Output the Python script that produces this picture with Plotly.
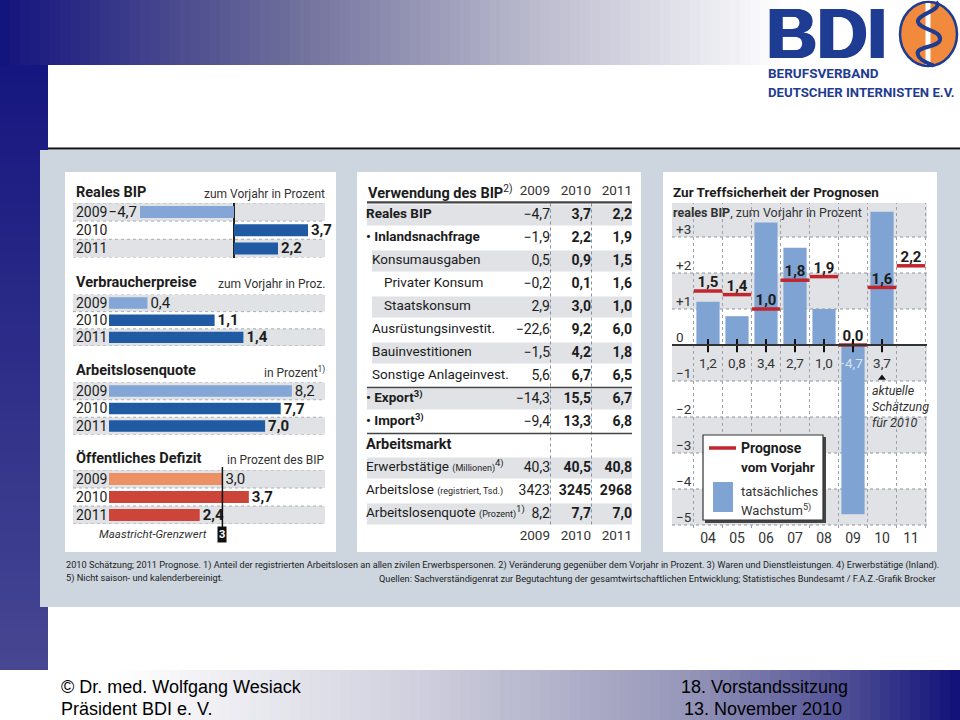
import plotly.graph_objects as go

W, H = 960, 720
def px(x): return x / W
def py(y): return 1 - y / H

TXT = "#1c1c1c"
FONT = "Roboto, Liberation Sans, sans-serif"
SLIDE_FONT = "Liberation Sans, Arial, sans-serif"

# ---------------- data ----------------
years = ["2009", "2010", "2011"]
reales_bip = [-4.7, 3.7, 2.2]
verbraucherpreise = [0.4, 1.1, 1.4]
arbeitslosenquote = [8.2, 7.7, 7.0]
oeff_defizit = [3.0, 3.7, 2.4]
maastricht_grenzwert = 3

table_labels = ["Reales BIP", "• Inlandsnachfrage", "Konsumausgaben", "Privater Konsum",
                "Staatskonsum", "Ausrüstungsinvestit.", "Bauinvestitionen",
                "Sonstige Anlageinvest.", "• Export<sup>3)</sup>", "• Import<sup>3)</sup>",
                "Arbeitsmarkt",
                "Erwerbstätige <span style='font-size:9px'>(Millionen)</span><sup>4)</sup>",
                "Arbeitslose <span style='font-size:9px'>(registriert, Tsd.)</span>",
                "Arbeitslosenquote <span style='font-size:9px'>(Prozent)</span><sup>1)</sup>"]
table_indent = [0, 0, 1, 2, 2, 1, 1, 1, 0, 0, 0, 0, 0, 0]
table_bold = [1, 1, 0, 0, 0, 0, 0, 0, 1, 1, 1, 0, 0, 0]
table_stripe = [1, 0, 1, 0, 1, 0, 1, 0, 1, 0, 0, 1, 0, 1]
table_2009 = [-4.7, -1.9, 0.5, -0.2, 2.9, -22.6, -1.5, 5.6, -14.3, -9.4, None, 40.3, 3423, 8.2]
table_2010 = [3.7, 2.2, 0.9, 0.1, 3.0, 9.2, 4.2, 6.7, 15.5, 13.3, None, 40.5, 3245, 7.7]
table_2011 = [2.2, 1.9, 1.5, 1.6, 1.0, 6.0, 1.8, 6.5, 6.7, 6.8, None, 40.8, 2968, 7.0]

prog_years = ["04", "05", "06", "07", "08", "09", "10", "11"]
actual_growth = [1.2, 0.8, 3.4, 2.7, 1.0, -4.7, 3.7]
forecast_prev = [1.5, 1.4, 1.0, 1.8, 1.9, 0.0, 1.6, 2.2]
prog_yticks = [3, 2, 1, 0, -1, -2, -3, -4, -5]


def de(v, dec=1):
    if v is None:
        return ""
    if abs(v) >= 1000:
        return f"{int(v)}"
    s = f"{abs(v):.{dec}f}".replace(".", ",")
    return ("−" + s) if v < 0 else s


def de_sign(v):
    if v > 0:
        return f"+{v}"
    if v < 0:
        return f"−{abs(v)}"
    return "0"


def ax(k):
    return "" if k == 1 else str(k)


fig = go.Figure()
shapes, ann = [], []


def rect(x0, y0, x1, y1, fill, lc=None, lw=0, layer="below"):
    shapes.append(dict(type="rect", xref="paper", yref="paper",
                       x0=px(x0), x1=px(x1), y0=py(y1), y1=py(y0),
                       fillcolor=fill, line=dict(width=lw, color=lc or fill), layer=layer))


def hline(x0, x1, y, color, width, dash="solid", layer="below"):
    shapes.append(dict(type="line", xref="paper", yref="paper", x0=px(x0), x1=px(x1),
                       y0=py(y), y1=py(y), line=dict(color=color, width=width, dash=dash), layer=layer))


def txt(x, y, s, size, anchor="left", color=TXT, font=FONT, yanchor="middle", shadow=None):
    f = dict(size=size, color=color, family=font)
    if shadow:
        f["shadow"] = shadow
    ann.append(dict(xref="paper", yref="paper", x=px(x), y=py(y), text=s, showarrow=False,
                    xanchor=anchor, yanchor=yanchor, font=f, borderpad=0))


def lerp(stops, t):
    for (t0, c0), (t1, c1) in zip(stops, stops[1:]):
        if t0 <= t <= t1:
            f = 0 if t1 == t0 else (t - t0) / (t1 - t0)
            c = [round(a + (b - a) * f) for a, b in zip(c0, c1)]
            return f"rgb({c[0]},{c[1]},{c[2]})"
    c = stops[-1][1]
    return f"rgb({c[0]},{c[1]},{c[2]})"


# ---------------- slide background ----------------
top_stops = [(0, (20, 20, 125)), (0.3, (110, 110, 155)), (0.55, (185, 185, 205)),
             (0.75, (236, 236, 242)), (0.82, (255, 255, 255)), (1, (255, 255, 255))]
n = 96
for i in range(n):
    x0 = i * W / n
    rect(x0, 0, x0 + W / n + 1, 65, lerp(top_stops, i / (n - 1)))
left_stops = [(0, (22, 22, 128)), (1, (70, 70, 146))]
m = 61
for i in range(m):
    y0 = 65 + i * 605 / m
    rect(0, y0, 48, y0 + 605 / m + 1, lerp(left_stops, i / (m - 1)))
bot_stops = [(0, (255, 255, 255)), (0.12, (255, 255, 255)), (0.45, (205, 205, 220)),
             (0.72, (150, 150, 185)), (0.88, (80, 80, 150)), (1, (18, 18, 122))]
for i in range(n):
    x0 = i * W / n
    rect(x0, 670, x0 + W / n + 1, 720, lerp(bot_stops, i / (n - 1)))

# graphic background
rect(40, 150, 960, 607, "#cdd5de")
hline(48, 960, 148.5, "#111111", 2)
rect(65, 172, 336, 552, "#ffffff")
rect(357, 172, 641, 552, "#ffffff")
rect(663, 172, 937, 552, "#ffffff")

# ---------------- logo ----------------
NAVY = "#1f3c93"
txt(764, 34, "<b>BDI</b>", 70, color=NAVY, font="Liberation Sans, Arial, sans-serif",
    shadow=f"1px 0 0 {NAVY}, 2px 0 0 {NAVY}, 3px 0 0 {NAVY}")
shapes.append(dict(type="circle", xref="paper", yref="paper", x0=px(900), x1=px(957),
                   y0=py(66), y1=py(2), fillcolor="#f28a3d", line=dict(color=NAVY, width=2.5),
                   layer="above"))
rect(925.5, 3, 930.5, 65, "#ffffff", layer="above")


def path_px(pts):
    s = "M %f %f" % (px(pts[0][0]), py(pts[0][1]))
    for i in range(1, len(pts), 3):
        a, b, c = pts[i], pts[i + 1], pts[i + 2]
        s += " C %f %f, %f %f, %f %f" % (px(a[0]), py(a[1]), px(b[0]), py(b[1]), px(c[0]), py(c[1]))
    return s


snake = [(936, 2), (944, 10), (916, 14), (918, 22), (920, 30), (942, 30), (940, 40),
         (938, 48), (914, 46), (918, 55), (920, 62), (932, 64), (934, 66)]
shapes.append(dict(type="path", xref="paper", yref="paper", path=path_px(snake),
                   line=dict(color=NAVY, width=4), layer="above"))
txt(767, 73, "<b>BERUFSVERBAND</b>", 13.5, color=NAVY)
txt(767, 92, "<b>DEUTSCHER INTERNISTEN E.V.</b>", 13.2, color=NAVY)

# ---------------- left panel: bar charts ----------------
LB, DB = "#84a6d6", "#1f5aa2"
OR1, RD = "#ec9166", "#cc4538"
GRAY = "#e0e2e5"
left_charts = [
    dict(title="Reales BIP", sub="zum Vorjahr in Prozent", ty=193, r0=212, rs=18.2,
         zero=234, scale=20.0, vals=reales_bip, colors=[LB, DB, DB], zl=True),
    dict(title="Verbraucherpreise", sub="zum Vorjahr in Proz.", ty=283, r0=303, rs=17.2,
         zero=109, scale=96.0, vals=verbraucherpreise, colors=[LB, DB, DB], zl=False),
    dict(title="Arbeitslosenquote", sub="in Prozent<sup>1)</sup>", ty=371, r0=391, rs=17.5,
         zero=109, scale=22.3, vals=arbeitslosenquote, colors=[LB, DB, DB], zl=False),
    dict(title="Öffentliches Defizit", sub="in Prozent des BIP", ty=459, r0=479, rs=18.0,
         zero=109, scale=37.8, vals=oeff_defizit, colors=[OR1, RD, RD], zl=False),
]
SX0, SX1 = 73, 325
layout_axes = {}
for k, c in enumerate(left_charts, start=1):
    a = ax(k)
    top = c["r0"] - c["rs"] / 2
    bot = c["r0"] + 2.5 * c["rs"]
    xr = [(SX0 - c["zero"]) / c["scale"], (SX1 - c["zero"]) / c["scale"]]
    layout_axes[f"xaxis{a}"] = dict(domain=[px(SX0), px(SX1)], range=xr, anchor=f"y{a}",
                                    showgrid=False, showticklabels=False, ticks="",
                                    zeroline=c["zl"], zerolinecolor="#222", zerolinewidth=1.5,
                                    fixedrange=True)
    layout_axes[f"yaxis{a}"] = dict(domain=[py(bot), py(top)], range=[2.5, -0.5],
                                    anchor=f"x{a}", showgrid=False, showticklabels=False,
                                    zeroline=False, ticks="", fixedrange=True)
    for r in range(3):
        if r != 1:
            shapes.append(dict(type="rect", xref=f"x{a} domain", yref=f"y{a}", x0=0, x1=1,
                               y0=r - 0.5, y1=r + 0.5, fillcolor=GRAY, line=dict(width=0),
                               layer="below"))
    for b in [-0.5, 0.5, 1.5, 2.5]:
        shapes.append(dict(type="line", xref=f"x{a} domain", yref=f"y{a}", x0=0, x1=1,
                           y0=b, y1=b, line=dict(color="#a9aeb5", width=1, dash="dot"),
                           layer="below"))
    texts = [de(v) if r == 0 else f"<b>{de(v)}</b>" for r, v in enumerate(c["vals"])]
    fig.add_trace(go.Bar(orientation="h", x=c["vals"], y=[0, 1, 2], width=0.66,
                         marker=dict(color=c["colors"], line=dict(width=0)),
                         text=texts, textposition="outside", constraintext="none",
                         textfont=dict(size=15, color=TXT, family=FONT), cliponaxis=False,
                         xaxis=f"x{a}", yaxis=f"y{a}", hoverinfo="skip"))
    txt(75, c["ty"], f"<b>{c['title']}</b>", 14.5)
    txt(326, c["ty"] + 1, c["sub"], 12, anchor="right", color="#333")
    for r, yl in enumerate(years):
        ann.append(dict(xref="paper", yref=f"y{a}", x=px(75), y=r, text=yl, showarrow=False,
                        xanchor="left", yanchor="middle", borderpad=0,
                        font=dict(size=14, color=TXT, family=FONT)))

# Maastricht limit
shapes.append(dict(type="line", xref="x4", yref="paper", x0=maastricht_grenzwert,
                   x1=maastricht_grenzwert, y0=py(527), y1=py(467),
                   line=dict(color="#111", width=1.5), layer="above"))
ann.append(dict(xref="x4", yref="paper", x=maastricht_grenzwert, y=py(534),
                text=f"<b>{maastricht_grenzwert}</b>", showarrow=False, bgcolor="#111",
                font=dict(size=11, color="white", family=FONT), borderpad=1,
                xanchor="center", yanchor="middle"))
txt(208, 534, "<i>Maastricht-Grenzwert</i>", 11.5, anchor="right", color="#333")

# ---------------- middle panel: table ----------------
T0 = 215.0
TS = 23.0
layout_axes["xaxis5"] = dict(domain=[px(357), px(641)], range=[357, 641], anchor="y5",
                             visible=False, fixedrange=True)
layout_axes["yaxis5"] = dict(domain=[py(552), py(172)],
                             range=[(552 - T0) / TS, (172 - T0) / TS], anchor="x5",
                             visible=False, fixedrange=True)
nrows = len(table_labels)
for r in range(nrows):
    if table_stripe[r]:
        shapes.append(dict(type="rect", xref="x5", yref="y5",
                           x0=367 if table_indent[r] == 0 else 372, x1=632,
                           y0=r - 0.46, y1=r + 0.46, fillcolor=GRAY, line=dict(width=0),
                           layer="below"))
for xs in [550.5, 591.5]:
    shapes.append(dict(type="line", xref="x5", yref="y5", x0=xs, x1=xs, y0=-0.5, y1=13.5,
                       line=dict(color="#8a9098", width=1, dash="dot"), layer="below"))
for yb, wdt in [(-0.55, 2.2), (7.5, 1.6), (9.5, 1.6)]:
    shapes.append(dict(type="line", xref="x5", yref="y5", x0=367, x1=632, y0=yb, y1=yb,
                       line=dict(color="#444", width=wdt), layer="above"))

lab_x = [366 + (6 if ind == 1 else 18 if ind == 2 else 0) for ind in table_indent]
lab_txt = [f"<b>{l}</b>" if b else l for l, b in zip(table_labels, table_bold)]
lab_size = [14.5 if r == 10 else 13.5 for r in range(nrows)]
fig.add_trace(go.Scatter(x=lab_x, y=list(range(nrows)), mode="text", text=lab_txt,
                         textposition="middle right",
                         textfont=dict(size=lab_size, color=TXT, family=FONT),
                         xaxis="x5", yaxis="y5", hoverinfo="skip", cliponaxis=False))
for col, xr, bold in [(table_2009, 550, False), (table_2010, 591, True), (table_2011, 632, True)]:
    rows = [r for r, v in enumerate(col) if v is not None]
    t = [(f"<b>{de(col[r])}</b>" if bold else de(col[r])) for r in rows]
    fig.add_trace(go.Scatter(x=[xr] * len(rows), y=rows, mode="text", text=t,
                             textposition="middle left",
                             textfont=dict(size=14, color=TXT, family=FONT),
                             xaxis="x5", yaxis="y5", hoverinfo="skip", cliponaxis=False))
# header / footer years
fig.add_trace(go.Scatter(x=[550, 591, 632] * 2, y=[-1] * 3 + [nrows] * 3, mode="text",
                         text=years * 2, textposition="middle left",
                         textfont=dict(size=13.5, color="#333", family=FONT),
                         xaxis="x5", yaxis="y5", hoverinfo="skip", cliponaxis=False))
txt(367, 193, "<b>Verwendung des BIP</b><sup>2)</sup>", 14.5)

# ---------------- right panel: forecast accuracy ----------------
Z0, PU = 345.0, 36.0
C0, CS = 708.0, 29.0
layout_axes["xaxis6"] = dict(domain=[px(672), px(927)],
                             range=[(672 - C0) / CS, (927 - C0) / CS], anchor="y6",
                             tickmode="array", tickvals=list(range(len(prog_years))),
                             ticktext=prog_years, ticks="", showgrid=False, zeroline=False,
                             showline=False, tickfont=dict(size=14, color="#333", family=FONT),
                             fixedrange=True)
layout_axes["yaxis6"] = dict(domain=[py(528), py(203)],
                             range=[(Z0 - 528) / PU, (Z0 - 203) / PU], anchor="x6",
                             showgrid=False, showticklabels=False, zeroline=False, ticks="",
                             fixedrange=True)
for a0, b0 in [(1, 2), (-1, 0), (-3, -2), (-5, -4), (3, 4)]:
    shapes.append(dict(type="rect", xref="x6 domain", yref="y6", x0=0, x1=1, y0=a0, y1=b0,
                       fillcolor=GRAY, line=dict(width=0), layer="below"))
for v in prog_yticks:
    if v != 0:
        shapes.append(dict(type="line", xref="x6 domain", yref="y6", x0=0, x1=1, y0=v, y1=v,
                           line=dict(color="#8d949c", width=1, dash="dot"), layer="below"))
for i in range(-1, len(prog_years)):
    shapes.append(dict(type="line", xref="x6", yref="y6 domain", x0=i + 0.5, x1=i + 0.5,
                       y0=0, y1=1, line=dict(color="#9aa1a9", width=1, dash="dot"),
                       layer="below"))
shapes.append(dict(type="line", xref="x6 domain", yref="y6", x0=0, x1=1, y0=0, y1=0,
                   line=dict(color="#333", width=2), layer="above"))

BAR_B = "#7fa3d3"
xi = list(range(len(actual_growth)))
fig.add_trace(go.Bar(x=xi, y=actual_growth, width=0.8, marker=dict(color=BAR_B, line=dict(width=0)),
                     xaxis="x6", yaxis="y6", hoverinfo="skip"))
# forecast segments
fx, fy = [], []
for i, f in enumerate(forecast_prev):
    fx += [i - 0.49, i + 0.49, None]
    fy += [f, f, None]
fig.add_trace(go.Scatter(x=fx, y=fy, mode="lines", line=dict(color="#c1262c", width=3.5),
                         xaxis="x6", yaxis="y6", hoverinfo="skip", cliponaxis=False))
fig.add_trace(go.Scatter(x=list(range(len(forecast_prev))), y=forecast_prev, mode="text",
                         text=[f"<b>{de(f)}</b>" for f in forecast_prev],
                         textposition="top center",
                         textfont=dict(size=15, color=TXT, family=FONT),
                         xaxis="x6", yaxis="y6", hoverinfo="skip", cliponaxis=False))
# ticks at zero line and actual values
tx, ty = [], []
for i in xi:
    tx += [i, i, None]
    ty += [0.17, -0.2, None]
fig.add_trace(go.Scatter(x=tx, y=ty, mode="lines", line=dict(color="#111", width=2),
                         xaxis="x6", yaxis="y6", hoverinfo="skip", cliponaxis=False))
fig.add_trace(go.Scatter(x=[i - (0.1 if v < 0 else 0) for i, v in zip(xi, actual_growth)],
                         y=[-0.55] * len(xi), mode="text",
                         text=[de(v) for v in actual_growth], textposition="middle center",
                         textfont=dict(size=13.5, family=FONT,
                                       color=["#dce4ee" if v < 0 else "#333" for v in actual_growth]),
                         xaxis="x6", yaxis="y6", hoverinfo="skip", cliponaxis=False))
fig.add_trace(go.Scatter(x=[6], y=[-0.92], mode="markers",
                         marker=dict(symbol="triangle-up", size=7, color="#111"),
                         xaxis="x6", yaxis="y6", hoverinfo="skip", cliponaxis=False))
for v in prog_yticks:
    ann.append(dict(xref="paper", yref="y6", x=px(675), y=v, yshift=8, text=de_sign(v),
                    showarrow=False, xanchor="left", yanchor="middle", borderpad=0,
                    font=dict(size=13.5, color="#333", family=FONT)))
txt(672, 192, "<b>Zur Treffsicherheit der Prognosen</b>", 13.5)
txt(672, 212, "<b>reales BIP</b>, zum Vorjahr in Prozent", 12.5, color="#333")
txt(871, 390, "<i>aktuelle</i>", 12.5, color="#333")
txt(871, 406, "<i>Schätzung</i>", 12.5, color="#333")
txt(871, 422, "<i>für 2010</i>", 12.5, color="#333")

# legend box
rect(705, 437, 826, 523, "#444", layer="above")
rect(703, 435, 823, 520, "#ffffff", lc="#333", lw=1.2, layer="above")
hline(709, 736, 448, "#c1262c", 3.5, layer="above")
txt(740, 448, "<b>Prognose</b>", 14)
txt(740, 467, "<b>vom Vorjahr</b>", 13.5)
rect(713, 482, 733, 512, BAR_B, layer="above")
txt(740, 491, "tatsächliches", 13, color="#333")
txt(740, 510, "Wachstum<sup>5)</sup>", 13, color="#333")

# ---------------- footnotes ----------------
txt(65, 565, "2010 Schätzung; 2011 Prognose. 1) Anteil der registrierten Arbeitslosen an allen "
    "zivilen Erwerbspersonen. 2) Veränderung gegenüber dem Vorjahr in Prozent. 3) Waren und "
    "Dienstleistungen. 4) Erwerbstätige (Inland).", 9.2, color="#222")
txt(65, 578, "5) Nicht saison- und kalenderbereinigt.", 9.2, color="#222")
txt(937, 578, "Quellen: Sachverständigenrat zur Begutachtung der gesamtwirtschaftlichen "
    "Entwicklung; Statistisches Bundesamt / F.A.Z.-Grafik Brocker", 9.2, anchor="right", color="#222")

# ---------------- slide footer ----------------
txt(60, 687, "© Dr. med. Wolfgang Wesiack", 18, color="#000", font=SLIDE_FONT)
txt(60, 709, "Präsident BDI e. V.", 18, color="#000", font=SLIDE_FONT)
txt(680, 687, "18. Vorstandssitzung", 18, color="#000", font=SLIDE_FONT)
txt(683, 709, "13. November 2010", 18, color="#000", font=SLIDE_FONT)

fig.update_layout(width=W, height=H, margin=dict(l=0, r=0, t=0, b=0),
                  paper_bgcolor="white", plot_bgcolor="rgba(0,0,0,0)",
                  showlegend=False, hovermode=False, barmode="overlay",
                  shapes=shapes, annotations=ann, **layout_axes)
fig.write_html("out.html", config={"displayModeBar": False, "staticPlot": True},
               post_script="document.body.style.margin='0';document.body.style.padding='0';"
                           "document.body.style.overflow='hidden';")
